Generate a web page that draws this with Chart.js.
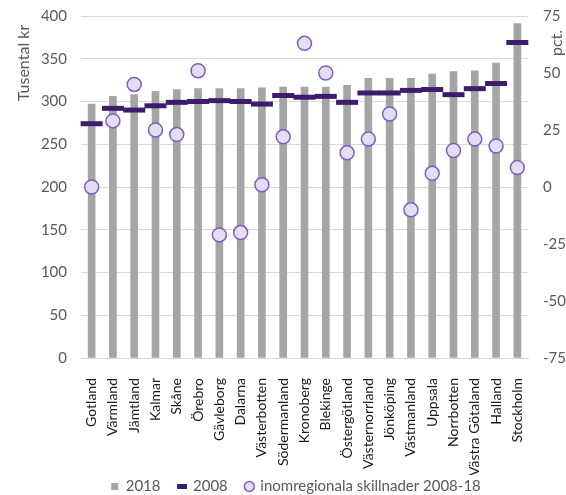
<!DOCTYPE html>
<html>
<head>
<meta charset="utf-8">
<script src="https://cdn.jsdelivr.net/npm/chart.js@4"></script>
<style>
html, body { margin: 0; padding: 0; background: #fff; }
#wrap { width: 566px; height: 495px; }
</style>
</head>
<body>
<div id="wrap"><canvas id="chart"></canvas></div>
<script>
const regions = ['Gotland', 'Värmland', 'Jämtland', 'Kalmar', 'Skåne', 'Örebro', 'Gävleborg', 'Dalarna',
    'Västerbotten', 'Södermanland', 'Kronoberg', 'Blekinge', 'Östergötland', 'Västernorrland',
    'Jönköping', 'Västmanland', 'Uppsala', 'Norrbotten', 'Västra Götaland', 'Halland', 'Stockholm'];
const income2018 = [297, 306, 308, 312, 314, 315, 315, 315, 316, 317, 317, 317, 319, 327, 327, 327, 332, 335, 336, 345, 391];
const income2008 = [274, 292, 290, 295, 299, 300, 301, 300, 297, 307, 305, 306, 299, 310, 310, 313, 314, 308, 315, 321, 369];
const spread = [0, 29, 45, 25, 23, 51, -21, -20, 1, 22, 63, 50, 15, 21, 32, -10, 6, 16, 21, 18, 8.5];
const leftRange = [0, 400, 50];
const rightRange = [-75, 75, 25];

Chart.defaults.font.family = 'Lato';
Chart.defaults.color = '#595959';

const layoutTweaks = {
    id: 'layoutTweaks',
    beforeLayout(chart) {
        // wide gaps between legend items but keep the legend box short
        const lg = chart.legend;
        if (lg && !lg._short) {
            const fit = lg.fit.bind(lg);
            lg.fit = function () { fit(); this.height = 20; };
            lg._short = true;
        }
    },
    afterLayout(chart) {
        const lg = chart.legend;
        lg.top -= 14;
        lg.left += 13;
        lg.right += 13;
    },
    afterDraw(chart) {
        const ctx = chart.ctx;
        const top = chart.chartArea.top;
        // axis titles, both read bottom to top as in the original
        [['Tusental kr', 24, top + 47], ['pct.', 557, top + 27]].forEach(([txt, x, y]) => {
            ctx.save();
            ctx.fillStyle = '#595959';
            ctx.font = '16px Lato';
            ctx.textAlign = 'center';
            ctx.textBaseline = 'middle';
            ctx.translate(x, y);
            ctx.rotate(-Math.PI / 2);
            ctx.fillText(txt, 0, 0);
            ctx.restore();
        });
    }
};

const noLabelPad = s => { s.paddingTop = 0; s.paddingBottom = 0; };

new Chart(document.getElementById('chart'), {
    type: 'bar',
    data: {
        labels: regions,
        datasets: [
            {
                label: '2018',
                data: income2018,
                backgroundColor: '#A5A5A5',
                barThickness: 7,
                yAxisID: 'y',
                pointStyle: 'rect',
                order: 3
            },
            {
                type: 'line',
                label: '2008',
                data: income2008,
                showLine: false,
                pointStyle: 'line',
                pointRadius: 11,
                pointHoverRadius: 11,
                pointBorderWidth: 5,
                borderColor: '#3D1C6E',
                backgroundColor: '#3D1C6E',
                yAxisID: 'y',
                order: 2
            },
            {
                type: 'line',
                label: 'inomregionala skillnader 2008-18',
                data: spread,
                showLine: false,
                pointStyle: 'circle',
                pointRadius: 7,
                pointHoverRadius: 7,
                pointBorderWidth: 1.5,
                borderColor: '#7B5EC6',
                backgroundColor: '#E5DEF3',
                yAxisID: 'y1',
                order: 1
            }
        ]
    },
    options: {
        responsive: true,
        maintainAspectRatio: false,
        animation: false,
        layout: { padding: { top: 16, left: 0, right: 0, bottom: 0 } },
        plugins: {
            tooltip: { enabled: false },
            legend: {
                position: 'bottom',
                labels: {
                    usePointStyle: true,
                    boxWidth: 7,
                    boxHeight: 7,
                    padding: 18,
                    color: '#595959',
                    font: { size: 15 },
                    sort: (a, b) => a.datasetIndex - b.datasetIndex
                }
            }
        },
        scales: {
            x: {
                grid: { display: false },
                border: { color: '#D9D9D9' },
                ticks: {
                    color: '#1a1a1a',
                    font: { size: 14 },
                    minRotation: 90,
                    maxRotation: 90,
                    autoSkip: false,
                    padding: 12
                },
                afterFit(s) { s.height = 117; }
            },
            y: {
                position: 'left',
                min: leftRange[0],
                max: leftRange[1],
                border: { display: false },
                grid: { color: '#D9D9D9', drawTicks: false },
                ticks: { stepSize: leftRange[2], padding: 14, font: { size: 15 } },
                afterFit(s) { s.width = 81; noLabelPad(s); }
            },
            y1: {
                position: 'right',
                min: rightRange[0],
                max: rightRange[1],
                border: { display: false },
                grid: { drawOnChartArea: false, drawTicks: false },
                ticks: { stepSize: rightRange[2], padding: 15, font: { size: 15 } },
                afterFit(s) { s.width = 38; noLabelPad(s); }
            }
        }
    },
    plugins: [layoutTweaks]
});
</script>
</body>
</html>
